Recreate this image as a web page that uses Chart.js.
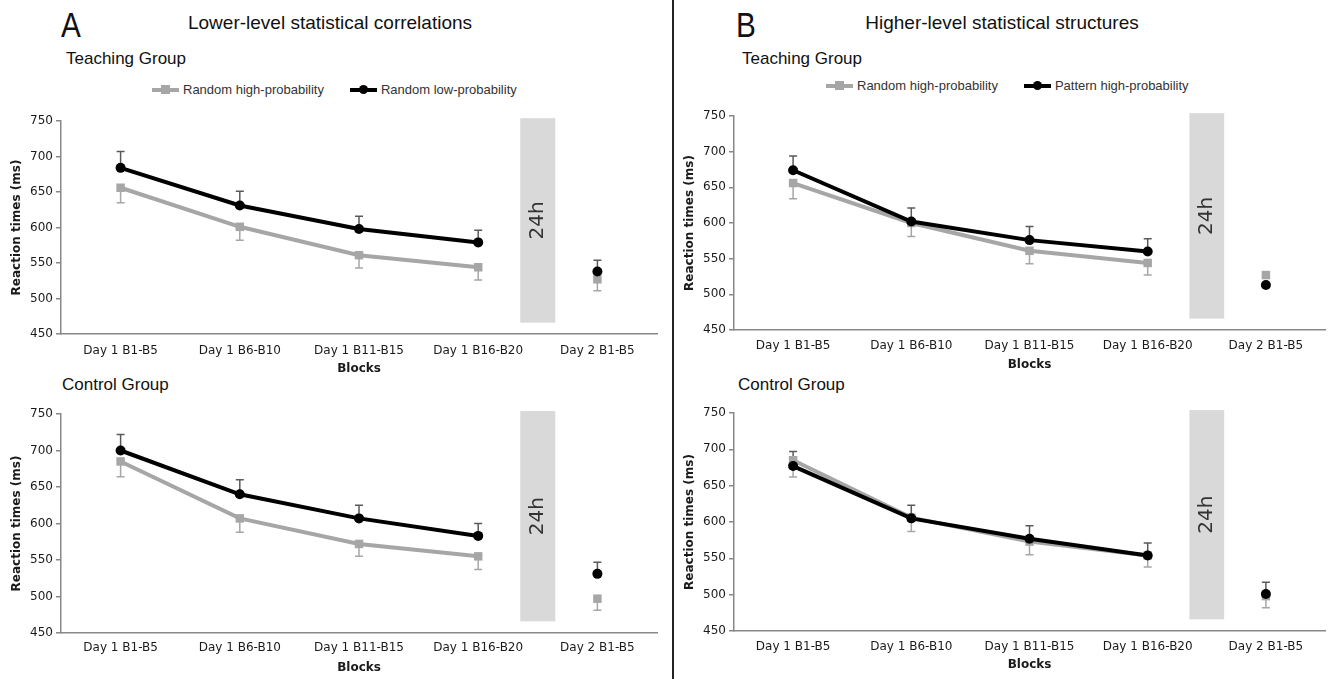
<!DOCTYPE html>
<html>
<head>
<meta charset="utf-8">
<script src="https://cdn.jsdelivr.net/npm/chart.js@4.4.0/dist/chart.umd.min.js"></script>
<style>
  html, body { margin: 0; padding: 0; background: #fff; }
  body { width: 1331px; height: 679px; position: relative; overflow: hidden; font-family: "Liberation Sans", Arial, sans-serif; color: #111; }
  .abs { position: absolute; }
  canvas { position: absolute; }
  .letter { font-size: 35px; line-height: 36px; transform: scaleX(0.85); transform-origin: left top; }
  .title { font-size: 19px; line-height: 22px; width: 400px; text-align: center; }
  .group { font-size: 17px; line-height: 20px; }
  .legend { font-size: 13px; line-height: 16px; color: #333; display: flex; align-items: center; }
  .sym { position: relative; width: 27px; height: 4px; margin-right: 4px; }
  .sym i { position: absolute; left: 9px; top: -3px; width: 9px; height: 9px; }
  .item { display: flex; align-items: center; margin-right: 26px; }
  #divider { left: 672px; top: 0; width: 1.5px; height: 679px; background: #222; }
</style>
</head>
<body>
<div class="abs letter" style="left:61px;top:7px;">A</div>
<div class="abs title" style="left:130px;top:12px;">Lower-level statistical correlations</div>
<div class="abs group" style="left:66px;top:49px;">Teaching Group</div>
<div class="abs group" style="left:62px;top:375px;">Control Group</div>
<div class="abs legend" style="left:152px;top:82px;">
  <span class="item"><span class="sym" style="background:#a6a6a6"><i style="background:#a6a6a6"></i></span>Random high-probability</span>
  <span class="item"><span class="sym" style="background:#000"><i style="background:#000;border-radius:50%"></i></span>Random low-probability</span>
</div>

<div id="divider" class="abs"></div>

<div class="abs letter" style="left:736px;top:7px;">B</div>
<div class="abs title" style="left:802px;top:12px;">Higher-level statistical structures</div>
<div class="abs group" style="left:742px;top:49px;">Teaching Group</div>
<div class="abs group" style="left:738px;top:375px;">Control Group</div>
<div class="abs legend" style="left:826px;top:78px;">
  <span class="item"><span class="sym" style="background:#a6a6a6"><i style="background:#a6a6a6"></i></span>Random high-probability</span>
  <span class="item"><span class="sym" style="background:#000"><i style="background:#000;border-radius:50%"></i></span>Pattern high-probability</span>
</div>

<canvas id="cTL" style="left:0px;top:105px;width:665px;height:275px;"></canvas>
<canvas id="cBL" style="left:0px;top:395px;width:665px;height:284px;"></canvas>
<canvas id="cTR" style="left:670px;top:100px;width:661px;height:280px;"></canvas>
<canvas id="cBR" style="left:670px;top:395px;width:661px;height:284px;"></canvas>

<script>
// ---------------- DATA ----------------
const categories = ["Day 1 B1-B5", "Day 1 B6-B10", "Day 1 B11-B15", "Day 1 B16-B20", "Day 2 B1-B5"];
const yMin = 450, yMax = 750, yStep = 50;
const breakLabel = "24h";
const breakRange = [754, 466]; // value span of the 24h break band

// A - Teaching group
const aTeachHigh    = [656, 601, 561, 544, 527];
const aTeachHighErr = [21, 19, 18, 18, 16];
const aTeachLow     = [684, 631, 598, 579, 538];
const aTeachLowErr  = [23, 20, 18, 17, 16];
// A - Control group
const aCtrlHigh     = [685, 607, 572, 555, 497];
const aCtrlHighErr  = [21, 19, 17, 18, 16];
const aCtrlLow      = [700, 640, 607, 583, 531];
const aCtrlLowErr   = [22, 20, 18, 17, 16];
// B - Teaching group
const bTeachRandom     = [656, 600, 561, 544, 527];
const bTeachRandomErr  = [22, 19, 18, 17, 0];
const bTeachPattern    = [674, 602, 576, 560, 513];
const bTeachPatternErr = [20, 19, 19, 18, 0];
// B - Control group
const bCtrlRandom      = [685, 606, 573, 554, 498];
const bCtrlRandomErr   = [23, 19, 18, 16, 16];
const bCtrlPattern     = [677, 605, 577, 554, 501];
const bCtrlPatternErr  = [20, 18, 18, 17, 16];

const legendA = ["Random high-probability", "Random low-probability"];
const legendB = ["Random high-probability", "Pattern high-probability"];

// ---------------- STYLE ----------------
const GRAY = '#a6a6a6';
const BLACK = '#000000';
const AXIS = '#888888';
const TICKFONT = "'DejaVu Sans', Verdana, sans-serif";

const errorBarPlugin = {
  id: 'errorBars',
  beforeDatasetsDraw(chart) {
    const ctx = chart.ctx;
    const ys = chart.scales.y;
    chart.data.datasets.forEach((ds, di) => {
      const meta = chart.getDatasetMeta(di);
      ctx.save();
      ctx.strokeStyle = ds.errColor;
      ctx.lineWidth = 1.5;
      meta.data.forEach((pt, i) => {
        const e = ds.err[i];
        if (!e) return;
        const v = ds.data[i];
        const y0 = ys.getPixelForValue(v);
        const y1 = ys.getPixelForValue(v + ds.errDir * e);
        ctx.beginPath();
        ctx.moveTo(pt.x, y0); ctx.lineTo(pt.x, y1);
        ctx.moveTo(pt.x - 4, y1); ctx.lineTo(pt.x + 4, y1);
        ctx.stroke();
      });
      ctx.restore();
    });
  }
};

const breakPlugin = {
  id: 'breakBand',
  beforeDatasetsDraw(chart) {
    const ctx = chart.ctx;
    const xs = chart.scales.x, ys = chart.scales.y;
    const xl = xs.getPixelForValue(3.5 - 0.147);
    const xr = xs.getPixelForValue(3.5 + 0.147);
    const yt = ys.getPixelForValue(breakRange[0]);
    const yb = ys.getPixelForValue(breakRange[1]);
    ctx.save();
    ctx.fillStyle = '#d9d9d9';
    ctx.fillRect(xl, yt, xr - xl, yb - yt);
    ctx.translate((xl + xr) / 2, (yt + yb) / 2);
    ctx.rotate(-Math.PI / 2);
    ctx.fillStyle = '#333';
    ctx.font = "20px 'DejaVu Sans', Verdana, sans-serif";
    ctx.textAlign = 'center';
    ctx.textBaseline = 'middle';
    ctx.fillText(breakLabel, 0, 0);
    ctx.restore();
  }
};

function series(label, data, err, color, style, dir, errColor) {
  return {
    label, data, err, errDir: dir, errColor,
    borderColor: color, backgroundColor: color,
    borderWidth: 4,
    pointStyle: style,
    pointRadius: style === 'rect' ? 6 : 5,
    pointBorderWidth: 0,
    pointBackgroundColor: color,
    tension: 0,
    segment: { borderColor: c => c.p1DataIndex === 4 ? 'rgba(0,0,0,0)' : color }
  };
}

function makeChart(id, darkLabel, darkData, darkErr, grayLabel, grayData, grayErr, g) {
  return new Chart(document.getElementById(id), {
    type: 'line',
    data: {
      labels: categories,
      datasets: [
        series(darkLabel, darkData, darkErr, BLACK, 'circle', 1, '#5a5a5a'),
        series(grayLabel, grayData, grayErr, GRAY, 'rect', -1, GRAY)
      ]
    },
    options: {
      responsive: false,
      animation: false,
      devicePixelRatio: 1,
      layout: { padding: { top: g.padTop, right: g.padRight, left: 0, bottom: 0 } },
      plugins: { legend: { display: false }, tooltip: { enabled: false } },
      scales: {
        x: {
          offset: true,
          grid: { display: false, drawTicks: false },
          border: { display: true, color: AXIS, width: 1.5 },
          ticks: { color: '#1a1a1a', font: { family: TICKFONT, size: 12 }, padding: g.xTickPad, maxRotation: 0, autoSkip: false },
          title: { display: true, text: 'Blocks', color: '#1a1a1a', font: { family: TICKFONT, size: 12, weight: 'bold' }, padding: { top: 0, bottom: g.xTitlePad } },
          afterFit(s) { s.height = g.xH; }
        },
        y: {
          min: yMin, max: yMax,
          grid: { display: true, drawOnChartArea: false, drawTicks: true, tickLength: 5, color: AXIS, lineWidth: 1.5 },
          border: { display: true, color: AXIS, width: 1.5 },
          ticks: { stepSize: yStep, color: '#1a1a1a', font: { family: TICKFONT, size: 12 }, padding: 3 },
          title: { display: true, text: 'Reaction times (ms)', color: '#1a1a1a', font: { family: TICKFONT, size: 12, weight: 'bold' }, padding: { top: g.yTitlePad, bottom: 0 } },
          afterFit(s) { s.width = g.yW; }
        }
      }
    },
    plugins: [breakPlugin, errorBarPlugin]
  });
}

function sizeCanvas(id) {
  const c = document.getElementById(id);
  c.width = parseInt(c.style.width); c.height = parseInt(c.style.height);
}
['cTL','cBL','cTR','cBR'].forEach(sizeCanvas);

makeChart('cTL', legendA[1], aTeachLow, aTeachLowErr, legendA[0], aTeachHigh, aTeachHighErr,
  { padTop: 16, padRight: 8, xH: 46, xTickPad: 10, xTitlePad: 4, yW: 61, yTitlePad: 10 });
makeChart('cBL', legendA[1], aCtrlLow, aCtrlLowErr, legendA[0], aCtrlHigh, aCtrlHighErr,
  { padTop: 19, padRight: 8, xH: 46, xTickPad: 8, xTitlePad: 4, yW: 61, yTitlePad: 10 });
makeChart('cTR', legendB[1], bTeachPattern, bTeachPatternErr, legendB[0], bTeachRandom, bTeachRandomErr,
  { padTop: 16, padRight: 2, xH: 50, xTickPad: 9, xTitlePad: 8, yW: 64, yTitlePad: 13 });
makeChart('cBR', legendB[1], bCtrlPattern, bCtrlPatternErr, legendB[0], bCtrlRandom, bCtrlRandomErr,
  { padTop: 18, padRight: 2, xH: 48, xTickPad: 9, xTitlePad: 7, yW: 64, yTitlePad: 13 });
</script>
</body>
</html>
